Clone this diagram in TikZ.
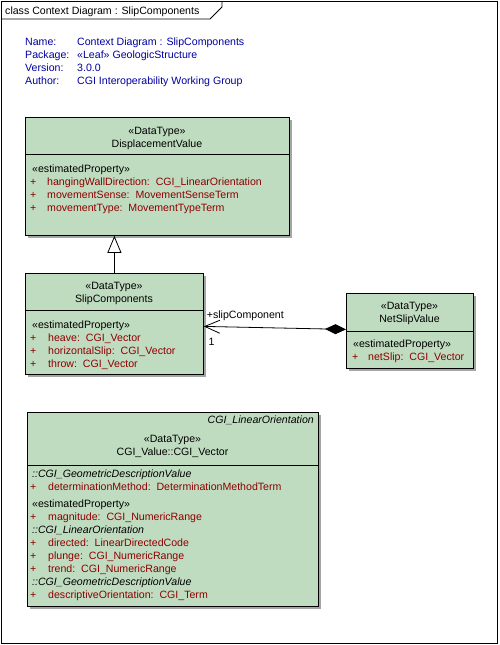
\documentclass[tikz,border=0pt]{standalone}
\usepackage{fontspec}
\setmainfont{Liberation Sans}
\usetikzlibrary{arrows.meta,shadows}
\definecolor{umlgreen}{RGB}{192,220,192}
\definecolor{attrred}{RGB}{140,0,0}
\definecolor{hdrblue}{RGB}{0,0,160}
\definecolor{shadowgray}{RGB}{165,165,165}
\begin{document}
\begin{tikzpicture}[x=1pt,y=-1pt,
  every node/.style={font=\fontsize{10.6}{13}\selectfont, inner sep=0pt},
  umlbox/.style={draw=black, line width=0.8pt, fill=umlgreen, anchor=north west,
    drop shadow={shadow xshift=3pt, shadow yshift=-3pt, fill=shadowgray, opacity=1}},
  txt/.style={anchor=base west},
  ctr/.style={anchor=base},
  hdr/.style={anchor=base west, text=hdrblue},
  attr/.style={anchor=base west, text=attrred},
  ital/.style={anchor=base west, font=\fontsize{10.6}{13}\selectfont\itshape},
  conn/.style={line width=0.8pt, draw=black}
]
\useasboundingbox (0,0) rectangle (499,645);

% frame and title tab
\node[draw, line width=0.8pt, minimum width=496pt, minimum height=642pt, anchor=north west] (frame) at (1,1) {};
\coordinate (tabA) at (1,19);
\coordinate (tabB) at (210,19);
\coordinate (tabC) at (222,7);
\coordinate (tabD) at (222,1);
\draw[line width=0.8pt] (tabA) -- (tabB) -- (tabC) -- (tabD);
\node[txt] (title) at (5,14) {class Context Diagram : SlipComponents};

% header notes
\node[hdr] (h1) at (25,45) {Name:};
\node[hdr] (h2) at (25,58) {Package:};
\node[hdr] (h3) at (25,71) {Version:};
\node[hdr] (h4) at (25,84) {Author:};
\node[hdr] (v1) at (77,45) {Context Diagram : SlipComponents};
\node[hdr] (v2) at (77,58) {«Leaf» GeologicStructure};
\node[hdr] (v3) at (77,71) {3.0.0};
\node[hdr] (v4) at (77,84) {CGI Interoperability Working Group};

% DisplacementValue
\node[umlbox, minimum width=264pt, minimum height=118pt] (dv) at (25,117) {};
\coordinate (dvl) at (25,154);
\draw[conn] (dvl) -- (dvl -| dv.east);
\node[ctr] (dv1) at (157,134) {«DataType»};
\node[ctr] (dv2) at (157,147) {DisplacementValue};
\node[txt] (dv3) at (32,172.5) {«estimatedProperty»};
\node[attr] (dvp1) at (30,185.5) {+};
\node[attr] (dva1) at (47,185.5) {hangingWallDirection:\ \ CGI\_LinearOrientation};
\node[attr] (dvp2) at (30,198.5) {+};
\node[attr] (dva2) at (47,198.5) {movementSense:\ \ MovementSenseTerm};
\node[attr] (dvp3) at (30,211.5) {+};
\node[attr] (dva3) at (47,211.5) {movementType:\ \ MovementTypeTerm};

% SlipComponents
\node[umlbox, minimum width=178pt, minimum height=101pt] (sc) at (25,273) {};
\coordinate (scl) at (25,310);
\draw[conn] (scl) -- (scl -| sc.east);
\node[ctr] (sc1) at (114,289.5) {«DataType»};
\node[ctr] (sc2) at (114,302) {SlipComponents};
\node[txt] (sc3) at (32,328.3) {«estimatedProperty»};
\node[attr] (scp1) at (30,341) {+};
\node[attr] (sca1) at (48,341) {heave:\ \ CGI\_Vector};
\node[attr] (scp2) at (30,354) {+};
\node[attr] (sca2) at (48,354) {horizontalSlip:\ \ CGI\_Vector};
\node[attr] (scp3) at (30,367) {+};
\node[attr] (sca3) at (48,367) {throw:\ \ CGI\_Vector};

% NetSlipValue
\node[umlbox, minimum width=127pt, minimum height=75pt] (ns) at (346,293) {};
\coordinate (nsl) at (346,331);
\draw[conn] (nsl) -- (nsl -| ns.east);
\node[ctr] (ns1) at (409.5,309.5) {«DataType»};
\node[ctr] (ns2) at (409.5,322.3) {NetSlipValue};
\node[txt] (ns3) at (353,347.7) {«estimatedProperty»};
\node[attr] (nsp1) at (352,360.5) {+};
\node[attr] (nsa1) at (368,360.5) {netSlip:\ \ CGI\_Vector};

% CGI_Vector
\node[umlbox, minimum width=291pt, minimum height=194pt] (cv) at (27,412) {};
\coordinate (cvl) at (27,465);
\draw[conn] (cvl) -- (cvl -| cv.east);
\node[anchor=base east, font=\fontsize{10.6}{13}\selectfont\itshape] (cv0) at (314,423.3) {CGI\_LinearOrientation};
\node[ctr] (cv1) at (172.5,442.7) {«DataType»};
\node[ctr] (cv2) at (172.5,455.7) {CGI\_Value::CGI\_Vector};
\node[ital] (cv3) at (32,477.7) {::CGI\_GeometricDescriptionValue};
\node[attr] (cvp1) at (30,490.7) {+};
\node[attr] (cva1) at (48,490.7) {determinationMethod:\ \ DeterminationMethodTerm};
\node[txt] (cv4) at (32,507) {«estimatedProperty»};
\node[attr] (cvp2) at (30,520) {+};
\node[attr] (cva2) at (48,520) {magnitude:\ \ CGI\_NumericRange};
\node[ital] (cv5) at (32,533.3) {::CGI\_LinearOrientation};
\node[attr] (cvp3) at (30,546) {+};
\node[attr] (cva3) at (48,546) {directed:\ \ LinearDirectedCode};
\node[attr] (cvp4) at (30,559) {+};
\node[attr] (cva4) at (48,559) {plunge:\ \ CGI\_NumericRange};
\node[attr] (cvp5) at (30,572) {+};
\node[attr] (cva5) at (48,572) {trend:\ \ CGI\_NumericRange};
\node[ital] (cv6) at (32,585) {::CGI\_GeometricDescriptionValue};
\node[attr] (cvp6) at (30,598.3) {+};
\node[attr] (cva6) at (48,598.3) {descriptiveOrientation:\ \ CGI\_Term};

% generalization SlipComponents -> DisplacementValue
\draw[conn, -{Triangle[open, length=17pt, width=14pt, fill=white]}] (sc.north) -- (sc.north |- dv.south);

% composition NetSlipValue <>-> SlipComponents
\draw[conn, {Diamond[length=21pt, width=10pt, fill=black]}-{Straight Barb[length=15pt, width=13pt]}]
  ([yshift=1.5pt]ns.west) -- ([yshift=-2.5pt]sc.east);
\node[txt] (role) at (206.7,318) {+slipComponent};
\node[txt] (mult) at (208.3,345) {1};
\end{tikzpicture}
\end{document}
